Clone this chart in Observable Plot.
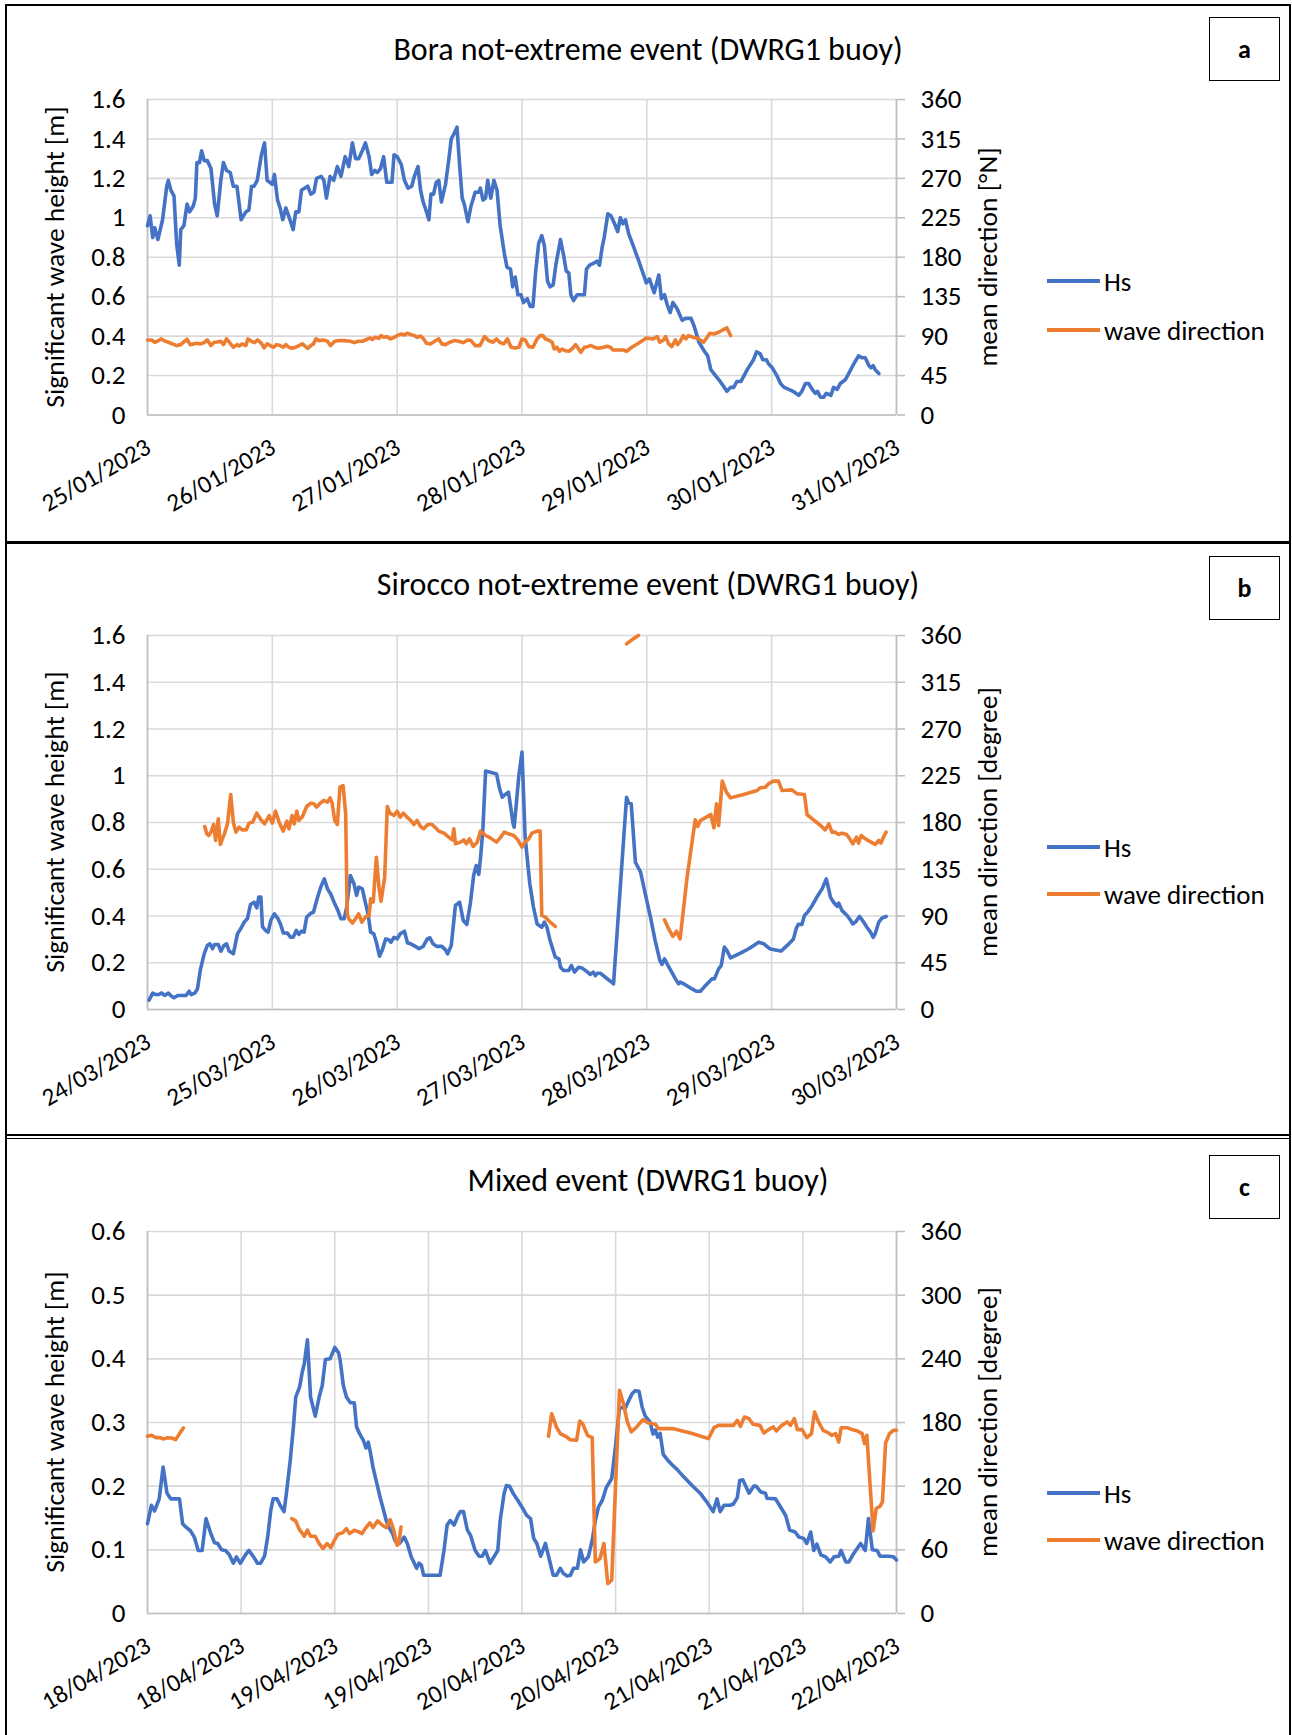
<!DOCTYPE html>
<html>
<head>
<meta charset="utf-8">
<script src="https://cdn.jsdelivr.net/npm/d3@7"></script>
<script src="https://cdn.jsdelivr.net/npm/@observablehq/plot@0.6"></script>
<style>
  body { margin: 0; background: #fff; }
  #page { position: relative; width: 1292px; height: 1735px; overflow: hidden; font-family: Carlito, Calibri, Lato, sans-serif; color: #000; }
  .hline { position: absolute; background: #000; }
  .title { position: absolute; left: 0; width: 1296px; text-align: center; font-size: 32px; line-height: 1; transform: translateY(-50%); white-space: nowrap; }
  .ytitle { position: absolute; font-size: 27.5px; white-space: nowrap; line-height: 1; transform: translate(-50%, -50%) rotate(-90deg); }
  .legline { position: absolute; height: 4px; width: 53px; }
  .legtext { position: absolute; font-size: 27px; line-height: 1; transform: translateY(-50%); white-space: nowrap; }
  .tag { position: absolute; width: 71px; height: 64px; border: 1.5px solid #000; box-sizing: border-box; font-weight: bold; font-size: 26px; display: flex; align-items: center; justify-content: center; background: #fff; }
  svg { position: absolute; left: 0; }
</style>
</head>
<body>
<div id="page"></div>
<script>
// ---------------- DATA ----------------
// Panel a: Bora not-extreme event, hours since 25/01/2023 00:00
const boraTitle = "Bora not-extreme event (DWRG1 buoy)";
const boraTickLabels = ["25/01/2023","26/01/2023","27/01/2023","28/01/2023","29/01/2023","30/01/2023","31/01/2023"];
const boraTickHours = [0,24,48,72,96,120,144];
const boraHs = [[0,0.96],[0.5,1.01],[1.0,0.90],[1.4,0.95],[2.0,0.89],[2.9,0.99],[3.7,1.16],[4.0,1.19],[4.5,1.14],[5.1,1.11],[5.6,0.87],[6.1,0.76],[6.4,0.94],[7.0,0.96],[7.6,1.07],[8.1,1.03],[8.8,1.06],[9.2,1.10],[9.5,1.28],[10.0,1.28],[10.4,1.34],[10.9,1.29],[11.5,1.29],[12.2,1.25],[12.9,1.07],[13.4,1.01],[14.1,1.19],[14.6,1.28],[15.2,1.24],[15.9,1.23],[16.5,1.16],[17.2,1.16],[18.0,0.99],[18.9,1.03],[19.5,1.04],[20.0,1.16],[20.5,1.16],[21.1,1.19],[21.9,1.32],[22.5,1.38],[23.0,1.19],[24.0,1.17],[24.4,1.22],[25.0,1.09],[25.5,1.05],[26.0,0.99],[26.6,1.05],[27.4,0.99],[28.0,0.94],[28.5,1.03],[29.1,1.03],[29.6,1.14],[30.2,1.15],[30.8,1.16],[31.4,1.12],[32.0,1.13],[32.5,1.20],[33.4,1.21],[33.9,1.19],[34.4,1.10],[35.1,1.21],[35.8,1.19],[36.5,1.26],[37.2,1.21],[38.0,1.31],[38.7,1.26],[39.4,1.38],[40.0,1.30],[40.6,1.30],[41.3,1.34],[41.9,1.38],[42.6,1.31],[43.1,1.22],[43.7,1.24],[44.2,1.23],[44.8,1.25],[45.4,1.31],[46.0,1.18],[47.0,1.18],[47.4,1.32],[48.0,1.31],[48.8,1.27],[49.4,1.19],[50.1,1.15],[50.8,1.16],[51.3,1.21],[52.0,1.26],[52.5,1.14],[53.0,1.08],[53.4,1.05],[54.1,0.99],[54.5,1.12],[55.0,1.12],[55.5,1.18],[56.0,1.19],[56.5,1.08],[57.3,1.17],[57.9,1.29],[58.4,1.40],[59.0,1.43],[59.5,1.46],[60.0,1.27],[60.5,1.10],[60.9,1.07],[61.6,0.98],[62.2,1.06],[63.0,1.13],[63.7,1.13],[64.0,1.15],[64.5,1.09],[65.0,1.10],[65.4,1.19],[66.0,1.10],[66.6,1.19],[67.2,1.14],[67.8,0.96],[68.6,0.82],[69.1,0.75],[69.8,0.74],[70.2,0.65],[70.7,0.70],[71.2,0.61],[71.8,0.61],[72.3,0.57],[73.0,0.59],[73.6,0.55],[74.1,0.55],[74.6,0.72],[75.2,0.87],[75.8,0.91],[76.3,0.86],[76.9,0.68],[77.4,0.65],[78.0,0.66],[78.5,0.76],[79.4,0.89],[80.0,0.81],[80.5,0.73],[81.0,0.72],[81.4,0.61],[81.9,0.58],[82.6,0.61],[83.5,0.61],[84.0,0.61],[84.4,0.74],[85.0,0.76],[85.8,0.77],[86.4,0.78],[86.9,0.76],[87.4,0.85],[87.8,0.90],[88.5,1.02],[89.1,1.01],[89.8,0.97],[90.4,0.93],[90.9,1.00],[91.4,0.97],[91.9,0.99],[92.5,0.92],[93.5,0.85],[94.6,0.77],[95.9,0.67],[96.5,0.69],[97.4,0.62],[98.3,0.71],[98.8,0.59],[99.4,0.61],[99.9,0.56],[100.5,0.52],[101.0,0.57],[101.8,0.54],[102.8,0.48],[103.4,0.49],[104.5,0.49],[105.1,0.45],[106.0,0.37],[106.9,0.33],[107.7,0.30],[108.3,0.23],[109.2,0.20],[110.1,0.17],[111.4,0.12],[112.1,0.14],[112.7,0.14],[113.3,0.17],[114.1,0.17],[115.3,0.23],[116.5,0.28],[117.1,0.32],[117.8,0.31],[118.3,0.28],[119.0,0.28],[119.4,0.26],[120.1,0.24],[121.0,0.20],[121.7,0.16],[122.4,0.14],[123.3,0.13],[124.1,0.12],[125.2,0.10],[125.8,0.12],[126.5,0.16],[127.1,0.16],[127.8,0.13],[128.4,0.11],[128.8,0.12],[129.4,0.09],[130.0,0.09],[130.5,0.11],[131.4,0.10],[131.9,0.14],[132.6,0.13],[133.2,0.16],[134.2,0.18],[134.8,0.21],[135.8,0.26],[136.7,0.30],[137.4,0.29],[138.0,0.29],[138.7,0.25],[139.1,0.24],[139.5,0.25],[139.9,0.23],[140.6,0.21]];
const boraDir = [[0,85.6],[0.8,85.6],[1.4,83],[1.9,84.1],[2.6,86.8],[3.2,84.9],[4.0,83],[4.8,81.1],[5.6,79.2],[6.4,80.3],[6.9,83],[7.6,86.4],[8.2,80.3],[8.8,81.1],[9.5,81.8],[10.2,81.1],[10.9,82.6],[11.5,85.6],[12.2,79.2],[12.8,83],[13.4,83.3],[14.1,84.1],[14.6,80.3],[15.2,86.8],[15.9,81.8],[16.5,77.3],[17.2,80.3],[17.6,78.8],[18.2,81.1],[18.9,79.2],[19.3,86.8],[20.0,84.1],[20.6,82.6],[21.2,85.6],[21.9,81.8],[22.4,76.5],[23.0,81.1],[23.7,78.8],[24.2,77.3],[24.8,80.3],[25.5,79.2],[26.1,77.3],[26.6,80.3],[27.2,77.3],[27.8,76.1],[28.5,77.3],[29.1,79.2],[29.8,81.1],[30.4,78],[30.8,76.1],[31.4,79.2],[31.9,81.1],[32.4,86.8],[33.0,84.9],[33.8,85.6],[34.6,84.1],[35.2,79.2],[36.0,84.1],[36.8,84.9],[37.8,84.9],[39.0,84.1],[39.8,82.6],[40.4,84.1],[41.3,84.1],[41.9,85.6],[42.8,87.9],[43.2,86],[43.8,88.7],[44.5,87.5],[44.9,90.6],[45.4,88.7],[46.1,89.4],[46.7,86.8],[47.5,88.7],[48.0,90.6],[48.8,92.5],[49.4,91.3],[49.9,93.2],[50.7,91.7],[51.3,90.6],[51.8,88.7],[52.5,90.2],[53.1,86.8],[53.6,81.8],[54.4,81.1],[55.2,84.1],[56.0,86.8],[56.6,81.1],[57.3,80.3],[58.1,83],[59.0,84.9],[59.8,84.1],[60.7,82.6],[61.6,85.6],[62.2,84.9],[63.0,79.2],[63.9,79.2],[64.8,89.4],[65.6,84.9],[66.4,83],[67.1,86.8],[67.8,82.6],[68.5,81.1],[69.2,86.8],[69.9,77.3],[70.7,76.5],[71.4,77.3],[72.0,86.8],[72.6,85.6],[73.3,78],[74.1,77.3],[74.9,86.8],[75.5,90.6],[76.0,90.6],[76.5,86.8],[77.1,85.6],[77.8,83],[78.2,75.3],[78.7,77.3],[79.2,72.7],[79.7,75.3],[80.3,73.4],[81.0,72.7],[81.6,75.3],[82.3,80.3],[82.9,75.3],[83.3,71.5],[84.0,77.3],[84.6,78],[85.3,79.2],[85.9,77.3],[86.7,76.1],[87.7,77.3],[88.3,78.4],[89.0,77.3],[89.5,74.2],[90.6,74.2],[91.5,74.2],[92.1,72.7],[93.1,77.3],[94.4,81.8],[95.9,87.9],[97.2,86.8],[98.0,89.4],[98.5,83],[99.2,85.6],[99.6,89.4],[100.2,81.1],[100.8,78],[101.5,85.6],[101.9,80.3],[102.4,83.7],[103.0,90.6],[103.5,86.8],[104.0,90.6],[104.9,88.7],[105.6,87.9],[106.3,85.6],[106.9,83],[107.6,88.7],[108.1,93.2],[108.9,92.5],[109.8,94.4],[110.6,97],[111.4,99.3],[112.1,90.6]];

// Panel b: Sirocco not-extreme event, hours since 24/03/2023 00:00
const siroccoTitle = "Sirocco not-extreme event (DWRG1 buoy)";
const siroccoTickLabels = ["24/03/2023","25/03/2023","26/03/2023","27/03/2023","28/03/2023","29/03/2023","30/03/2023"];
const siroccoTickHours = [0,24,48,72,96,120,144];
const siroccoHs = [[0.3,0.04],[1.0,0.07],[1.6,0.064],[2.2,0.064],[2.7,0.071],[3.3,0.06],[4.0,0.07],[4.6,0.057],[5.1,0.05],[5.8,0.06],[6.7,0.06],[7.4,0.06],[8.0,0.078],[8.4,0.064],[9.1,0.07],[9.6,0.088],[10.2,0.174],[10.9,0.238],[11.5,0.274],[12.0,0.281],[12.5,0.26],[12.9,0.278],[13.6,0.278],[14.1,0.25],[14.7,0.274],[15.2,0.281],[15.7,0.25],[16.5,0.238],[17.3,0.324],[17.9,0.345],[18.6,0.374],[19.2,0.388],[19.8,0.449],[20.5,0.459],[21.0,0.435],[21.4,0.481],[21.8,0.481],[22.1,0.355],[22.7,0.338],[23.2,0.331],[23.7,0.381],[24.4,0.409],[25.1,0.388],[25.6,0.364],[26.1,0.327],[26.9,0.327],[27.5,0.309],[28.0,0.309],[28.6,0.338],[29.1,0.321],[29.6,0.335],[30.1,0.331],[30.6,0.395],[31.4,0.412],[31.9,0.416],[32.6,0.473],[33.3,0.523],[34.0,0.559],[34.6,0.516],[35.2,0.495],[36.0,0.452],[36.6,0.424],[37.2,0.388],[37.8,0.388],[38.3,0.438],[39.0,0.573],[39.7,0.538],[40.2,0.488],[40.6,0.523],[41.3,0.516],[41.8,0.466],[42.4,0.409],[42.9,0.331],[43.5,0.324],[44.0,0.288],[44.6,0.228],[45.1,0.252],[45.8,0.302],[46.4,0.298],[46.8,0.288],[47.4,0.309],[48.0,0.302],[48.6,0.324],[49.4,0.335],[50.0,0.284],[50.6,0.281],[51.5,0.27],[52.2,0.26],[53.0,0.27],[53.8,0.302],[54.3,0.307],[54.9,0.281],[55.6,0.27],[56.6,0.27],[57.3,0.255],[57.7,0.238],[58.4,0.274],[59.2,0.445],[60.0,0.459],[60.7,0.381],[61.4,0.364],[62.1,0.459],[62.7,0.573],[63.2,0.616],[63.7,0.578],[64.1,0.666],[64.5,0.78],[65.0,1.02],[65.9,1.015],[67.1,1.008],[67.7,0.944],[68.2,0.908],[68.8,0.92],[69.4,0.93],[70.3,0.794],[70.5,0.78],[71.4,1.001],[72.0,1.101],[72.6,0.737],[73.5,0.538],[74.2,0.438],[74.9,0.366],[75.8,0.352],[76.3,0.374],[76.8,0.352],[77.4,0.295],[78.4,0.224],[79.1,0.217],[79.4,0.181],[80.0,0.167],[81.0,0.167],[81.5,0.188],[82.1,0.16],[82.9,0.181],[83.5,0.178],[84.4,0.164],[85.1,0.15],[85.7,0.16],[86.1,0.145],[86.5,0.155],[87.1,0.155],[88.0,0.138],[89.0,0.121],[89.6,0.11],[92.1,0.908],[92.5,0.883],[93.0,0.88],[93.8,0.63],[94.8,0.588],[95.7,0.495],[96.7,0.395],[97.6,0.295],[98.5,0.21],[98.9,0.193],[99.4,0.217],[99.9,0.195],[100.6,0.167],[101.5,0.131],[102.1,0.11],[102.4,0.117],[103.4,0.106],[104.7,0.088],[105.5,0.078],[106.3,0.078],[107.1,0.098],[107.9,0.117],[108.5,0.131],[109.0,0.131],[109.8,0.174],[110.3,0.188],[110.9,0.267],[111.4,0.252],[112.1,0.221],[114.0,0.241],[115.6,0.26],[117.5,0.288],[118.5,0.281],[119.6,0.26],[120.7,0.255],[121.8,0.25],[123.0,0.274],[124.2,0.302],[124.7,0.345],[125.1,0.364],[125.8,0.364],[126.3,0.402],[126.9,0.416],[127.8,0.445],[128.7,0.481],[129.7,0.516],[130.5,0.559],[131.0,0.512],[131.3,0.481],[131.9,0.459],[132.6,0.441],[132.9,0.455],[133.5,0.424],[134.5,0.402],[135.1,0.384],[135.6,0.366],[136.1,0.374],[136.9,0.398],[137.7,0.374],[138.3,0.352],[139.0,0.331],[139.5,0.309],[139.9,0.324],[140.6,0.374],[141.2,0.391],[142.0,0.398]];
// null entries mark gaps in the record
const siroccoDir = [[11.0,176.1],[11.4,169.1],[11.8,167.5],[12.3,171.7],[12.7,178.1],[13.1,162.7],[13.6,183.5],[14.0,158.8],[14.4,164.3],[14.8,169.1],[15.4,179.4],[16.0,207],[16.5,180.3],[17.0,170.7],[17.6,175.5],[18.2,172.9],[19.0,172.9],[19.5,179.4],[20.2,180.3],[21.0,189],[21.8,182.6],[22.5,178.7],[23.4,186.7],[24.0,179.4],[24.6,190.9],[25.3,180.3],[26.1,171.7],[26.8,181.3],[27.2,173.9],[27.8,186.7],[28.2,178.7],[28.7,190.9],[29.1,181.9],[29.8,185.8],[30.6,195.4],[31.4,198.6],[32.0,198],[32.5,194.8],[33.2,198.6],[33.9,201.2],[34.6,199.6],[35.1,203.7],[35.5,198.6],[36.0,181.9],[36.5,178.1],[37.0,214],[37.6,215.6],[38.1,188.3],[38.4,92.1],[38.7,87.3],[39.4,83.1],[40.0,87.3],[40.6,92.1],[41.2,84.1],[42.0,89.5],[42.6,90.4],[42.9,106.5],[43.4,103.3],[44.0,146.6],[44.5,117.8],[44.9,104.3],[45.6,127.4],[46.1,195.4],[46.6,189],[47.4,186.7],[48.0,190.9],[48.6,185.1],[49.2,189],[49.9,185.1],[50.6,181.9],[51.2,178.1],[51.8,181.9],[52.5,176.1],[53.1,173.9],[53.9,178.1],[54.7,178.1],[55.4,174.9],[56.0,171.7],[57.0,169.7],[57.9,165.9],[58.6,163.3],[58.9,173.9],[59.2,159.5],[60.2,161.1],[60.8,163.3],[61.3,159.5],[61.9,164.3],[62.6,156.9],[63.4,161.1],[64.0,171.7],[65.0,167.5],[65.9,165.2],[67.1,161.1],[67.8,165.2],[68.6,170.7],[69.4,169.1],[70.4,167.5],[71.2,163.3],[72.0,156.3],[72.6,161.1],[73.3,164.3],[73.9,169.7],[74.9,171.7],[75.5,171.7],[75.8,90.5],[76.5,88.9],[77.4,84.1],[78.4,79.9],null,[92.1,352],[93.1,355.8],[94.4,360],null,[99.4,86.3],[100.2,77.6],[101.0,70.3],[101.7,75.4],[102.4,68],[103.7,125.8],[105.3,182.6],[105.8,176.2],[106.3,181.9],[107.2,184.5],[108.3,187.7],[108.9,174.9],[109.4,198],[109.8,177.1],[110.5,219.8],[111.3,209.2],[112.1,203.7],[114.6,207],[117.2,210.8],[117.8,213.4],[118.8,214],[119.4,217.2],[120.3,219.8],[121.3,219.8],[122.0,210.8],[123.9,211.4],[124.9,207.6],[126.3,207],[126.8,187.7],[127.8,183.5],[129.4,177.1],[130.3,172.9],[131.0,178.7],[131.6,170.7],[132.2,170.7],[132.9,168.5],[133.5,169.7],[134.4,168.5],[135.0,164.3],[135.6,159.5],[136.3,165.9],[136.7,160.1],[137.2,167.5],[138.0,164.3],[139.1,161.1],[139.9,158.8],[140.6,162.7],[141.0,160.1],[141.5,165.9],[142.0,170.7]];

// Panel c: Mixed event, hours since 18/04/2023 00:00
const mixedTitle = "Mixed event (DWRG1 buoy)";
const mixedTickLabels = ["18/04/2023","18/04/2023","19/04/2023","19/04/2023","20/04/2023","20/04/2023","21/04/2023","21/04/2023","22/04/2023"];
const mixedTickHours = [0,12,24,36,48,60,72,84,96];
const mixedHs = [[0,0.141],[0.5,0.17],[0.9,0.161],[1.5,0.18],[2.0,0.23],[2.5,0.189],[3.0,0.18],[4.1,0.18],[4.5,0.141],[4.9,0.136],[5.5,0.13],[6.0,0.12],[6.5,0.099],[7.0,0.099],[7.5,0.149],[8.1,0.126],[8.6,0.111],[9.0,0.11],[9.5,0.1],[10.0,0.099],[10.5,0.092],[11.0,0.079],[11.4,0.089],[11.9,0.079],[12.6,0.093],[13.0,0.099],[13.6,0.089],[14.1,0.079],[14.5,0.079],[15.0,0.09],[15.4,0.12],[15.8,0.162],[16.1,0.18],[16.6,0.18],[17.0,0.17],[17.5,0.16],[17.8,0.188],[18.3,0.241],[18.7,0.293],[19.0,0.34],[19.5,0.356],[19.8,0.377],[20.1,0.393],[20.5,0.43],[20.9,0.34],[21.5,0.31],[22.0,0.34],[22.4,0.358],[22.8,0.399],[23.4,0.4],[24.0,0.418],[24.5,0.409],[24.7,0.397],[25.1,0.358],[25.5,0.34],[26.0,0.331],[26.5,0.331],[26.8,0.293],[27.2,0.282],[27.7,0.271],[28.0,0.26],[28.3,0.269],[28.6,0.251],[28.9,0.23],[29.4,0.204],[29.8,0.183],[30.2,0.165],[30.6,0.146],[30.9,0.136],[31.4,0.126],[31.7,0.115],[32.0,0.11],[32.3,0.11],[32.9,0.12],[33.3,0.11],[33.8,0.089],[34.5,0.071],[34.8,0.079],[35.1,0.076],[35.4,0.06],[36.3,0.06],[36.9,0.06],[37.5,0.06],[38.0,0.099],[38.4,0.139],[38.8,0.146],[39.3,0.139],[39.8,0.154],[40.1,0.16],[40.5,0.16],[41.0,0.131],[41.4,0.123],[42.0,0.099],[42.5,0.09],[42.9,0.09],[43.3,0.099],[43.9,0.079],[44.4,0.089],[44.9,0.099],[45.2,0.146],[45.7,0.188],[46.0,0.201],[46.4,0.2],[46.9,0.188],[47.6,0.175],[48.1,0.165],[48.6,0.154],[49.1,0.149],[49.5,0.118],[49.9,0.11],[50.4,0.09],[51.0,0.11],[51.4,0.09],[52.0,0.06],[52.4,0.06],[52.9,0.071],[53.3,0.063],[53.8,0.059],[54.2,0.06],[54.6,0.071],[55.1,0.071],[55.5,0.1],[55.9,0.081],[56.5,0.089],[57.0,0.115],[57.4,0.146],[57.8,0.167],[58.3,0.178],[58.8,0.198],[59.5,0.212],[60.0,0.264],[60.5,0.324],[61.2,0.322],[61.7,0.335],[62.1,0.345],[62.5,0.35],[63.0,0.349],[63.4,0.324],[63.8,0.31],[64.4,0.301],[64.8,0.282],[65.1,0.288],[65.4,0.277],[65.7,0.283],[66.1,0.25],[66.6,0.242],[67.2,0.234],[67.9,0.226],[68.7,0.215],[69.8,0.201],[70.9,0.188],[71.7,0.175],[72.5,0.16],[73.0,0.18],[73.4,0.16],[73.9,0.17],[74.7,0.17],[75.1,0.172],[75.6,0.182],[75.9,0.209],[76.3,0.21],[77.1,0.189],[77.7,0.2],[78.0,0.2],[78.6,0.191],[79.2,0.189],[79.4,0.181],[80.5,0.18],[81.0,0.17],[81.8,0.154],[82.3,0.131],[83.0,0.128],[83.5,0.12],[84.1,0.118],[84.5,0.11],[85.0,0.128],[85.4,0.099],[85.8,0.109],[86.3,0.092],[86.9,0.089],[87.5,0.081],[88.0,0.089],[88.6,0.09],[88.9,0.099],[89.5,0.081],[89.9,0.081],[90.5,0.094],[91.4,0.11],[92.0,0.099],[92.4,0.149],[92.9,0.1],[93.5,0.099],[93.9,0.09],[95.0,0.09],[95.6,0.089],[96.0,0.084]];
const mixedDir = [[0,167],[0.5,167.9],[1.1,165.7],[1.6,165.7],[2.0,164.5],[2.6,165.7],[3.1,165.4],[3.6,163.8],[4.1,169.5],[4.6,174.8],null,[18.5,89.4],[19.0,87.3],[19.4,80],[20.1,72.8],[20.5,78.5],[20.9,72.8],[21.5,72.8],[22.0,65.9],[22.5,61.2],[23.0,65.9],[23.5,62.1],[24.0,69.7],[24.4,74.7],[25.0,76],[25.5,80],[25.9,75.3],[26.5,78.5],[27.1,76.9],[27.5,75.3],[27.9,80],[28.5,85.4],[28.9,81],[29.5,87.3],[30.1,83.2],[30.6,81],[31.1,88.5],[31.5,80],[32.0,64.3],[32.2,65.9],[32.5,81.6],null,[51.4,167],[51.8,188.3],[52.4,175.8],[52.9,169.5],[53.6,167],[54.2,163.8],[55.0,163.2],[55.4,181.4],[55.8,178.3],[56.4,167.9],[57.0,165.7],[57.4,48.6],[58.0,51.8],[58.5,65.9],[59.0,28.2],[59.5,31.4],[60.0,122.4],[60.5,210.3],[61.0,197.7],[61.5,180.5],[62.0,171.1],[62.7,175.8],[63.5,182.7],[64.2,179.5],[65.1,178.3],[65.5,174.2],[67.4,174.2],[69.6,170.1],[71.9,164.8],[72.6,175.1],[73.2,177.3],[75.1,177.3],[75.6,182],[76.0,176.4],[76.5,185.2],[77.1,183.6],[77.6,178.3],[78.5,177.3],[79.0,170.1],[79.6,173.3],[80.2,175.8],[80.6,172],[81.3,177.3],[82.0,180.5],[82.4,177.3],[82.9,183.6],[83.3,173.3],[83.9,173.3],[84.5,165.7],[85.1,169.5],[85.5,189.9],[86.0,180.5],[86.6,172.6],[87.3,170.1],[87.7,167.9],[88.2,169.5],[88.6,161.6],[88.9,175.1],[89.7,175.1],[90.3,173.3],[91.0,172],[91.6,169.5],[91.9,160.1],[92.2,167.9],[93.0,77.8],[93.4,99],[93.9,101.1],[94.2,105.1],[94.6,160.7],[95.1,169.5],[95.6,172.6],[96.0,172.6]];

const seriesNames = ["Hs", "wave direction"];
const leftTitle = "Significant wave height [m]";

// ---------------- DRAWING ----------------
const FONT = "Carlito, Calibri, Lato, sans-serif";
const BLUE = "#4472C4", ORANGE = "#ED7D31", GRID = "#D9D9D9", AXIS = "#BFBFBF";
const page = document.getElementById("page");

function el(cls, css, text) {
  const d = document.createElement("div");
  d.className = cls;
  Object.assign(d.style, css);
  if (text != null) d.textContent = text;
  page.appendChild(d);
  return d;
}

// frame lines
el("hline", {left: "5px", top: "4px", width: "2px", height: "1731px"});
el("hline", {left: "1289px", top: "4px", width: "2px", height: "1731px"});
el("hline", {left: "5px", top: "4px", width: "1286px", height: "2px"});
el("hline", {left: "5px", top: "541px", width: "1286px", height: "3px"});
el("hline", {left: "5px", top: "1134px", width: "1286px", height: "1.5px"});
el("hline", {left: "5px", top: "1137.5px", width: "1286px", height: "1.5px"});

function panel(cfg) {
  const {svgTop, svgHeight, mTop, mBottom, yMax, yStep, xMax, tickHours, tickLabels, hs, dir, title, rightTitle, tag, titleY, legendY, tagTop} = cfg;
  const toY = d => d / 360 * yMax;
  const hsData = hs.map(([h, v]) => ({h, v}));
  const dirData = dir.map(p => p ? {h: p[0], v: toY(p[1])} : {h: NaN, v: NaN});
  const yTicks = d3.range(0, yMax + yStep / 2, yStep);
  const fmtLeft = d => String(+d.toFixed(1));
  const svg = Plot.plot({
    width: 1292, height: svgHeight,
    marginLeft: 147, marginRight: 396, marginTop: mTop, marginBottom: mBottom,
    x: {type: "linear", domain: [0, xMax], axis: null},
    y: {type: "linear", domain: [0, yMax], axis: null},
    style: {fontFamily: FONT, fontSize: "27px", color: "#000", background: "transparent", overflow: "visible"},
    marks: [
      Plot.gridY(yTicks, {stroke: GRID, strokeOpacity: 1, strokeWidth: 1.6}),
      Plot.gridX(tickHours, {stroke: GRID, strokeOpacity: 1, strokeWidth: 1.6}),
      Plot.ruleY([0], {stroke: AXIS, strokeWidth: 1.6}),
      Plot.ruleX([0], {stroke: AXIS, strokeWidth: 1.6}),
      Plot.ruleX([xMax], {stroke: AXIS, strokeWidth: 1.6}),
      Plot.axisY(yTicks, {anchor: "left", tickSize: 0, tickPadding: 22, tickFormat: fmtLeft, label: null, fontSize: 27}),
      Plot.axisY(yTicks, {anchor: "right", tickSize: 8, tickPadding: 16, stroke: AXIS, strokeWidth: 1.6, tickFormat: d => String(Math.round(d / yMax * 360)), label: null, fontSize: 27}),
      Plot.axisX(tickHours, {anchor: "bottom", tickSize: 0, tickPadding: 30, dx: 1, tickRotate: -30, tickFormat: d => tickLabels[tickHours.indexOf(d)], label: null, fontSize: 25}),
      Plot.line(hsData, {x: "h", y: "v", stroke: BLUE, strokeWidth: 3.6, strokeLinejoin: "round"}),
      Plot.line(dirData, {x: "h", y: "v", stroke: ORANGE, strokeWidth: 3.6, strokeLinejoin: "round"})
    ]
  });
  svg.style.top = svgTop + "px";
  page.appendChild(svg);

  const plotTop = svgTop + mTop, plotBottom = svgTop + svgHeight - mBottom;
  const mid = (plotTop + plotBottom) / 2;
  el("title", {top: titleY + "px"}, title);
  el("ytitle", {left: "55px", top: mid + "px"}, leftTitle);
  el("ytitle", {left: "988px", top: mid + "px"}, rightTitle);
  [BLUE, ORANGE].forEach((c, i) => {
    el("legline", {left: "1047px", top: (legendY[i] - 2) + "px", background: c});
    el("legtext", {left: "1104px", top: legendY[i] + "px"}, seriesNames[i]);
  });
  el("tag", {left: "1209px", top: tagTop + "px"}, tag);
}

panel({svgTop: 0, svgHeight: 540, mTop: 99, mBottom: 125.5, yMax: 1.6, yStep: 0.2, xMax: 144,
  tickHours: boraTickHours, tickLabels: boraTickLabels, hs: boraHs, dir: boraDir,
  title: boraTitle, rightTitle: "mean direction [°N]", tag: "a", titleY: 50, legendY: [281, 329.5], tagTop: 17});
panel({svgTop: 543, svgHeight: 592, mTop: 92, mBottom: 126, yMax: 1.6, yStep: 0.2, xMax: 144,
  tickHours: siroccoTickHours, tickLabels: siroccoTickLabels, hs: siroccoHs, dir: siroccoDir,
  title: siroccoTitle, rightTitle: "mean direction [degree]", tag: "b", titleY: 585, legendY: [847, 894], tagTop: 556});
panel({svgTop: 1137, svgHeight: 598, mTop: 94, mBottom: 122, yMax: 0.6, yStep: 0.1, xMax: 96,
  tickHours: mixedTickHours, tickLabels: mixedTickLabels, hs: mixedHs, dir: mixedDir,
  title: mixedTitle, rightTitle: "mean direction [degree]", tag: "c", titleY: 1181, legendY: [1493, 1540], tagTop: 1155});
</script>
</body>
</html>
